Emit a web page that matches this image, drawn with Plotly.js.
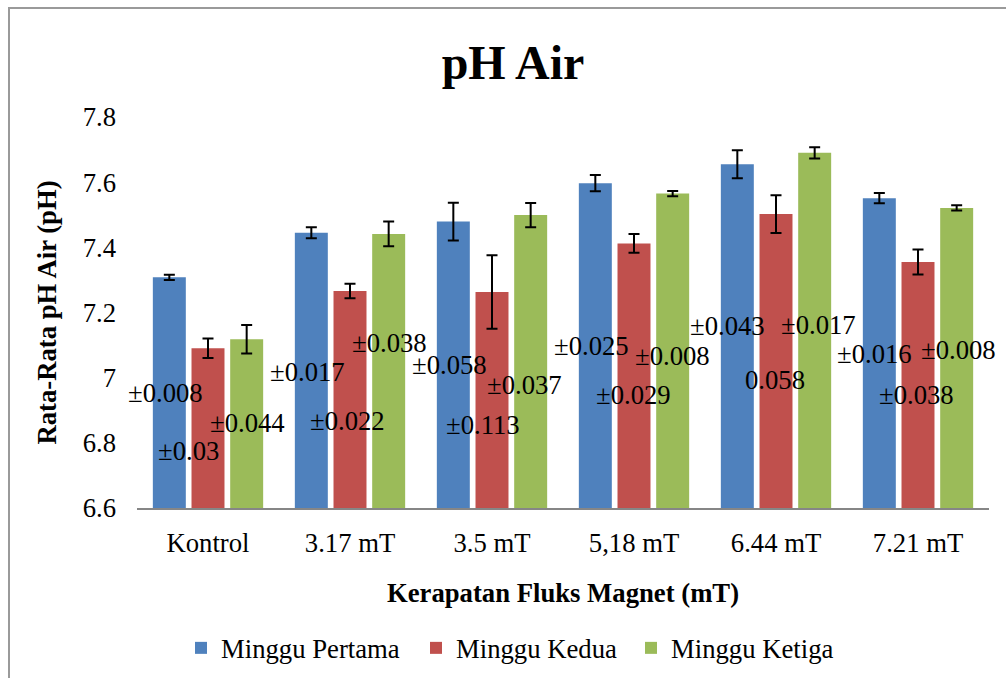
<!DOCTYPE html>
<html>
<head>
<meta charset="utf-8">
<script src="https://cdn.plot.ly/plotly-3.0.1.min.js"></script>
<style>
html,body{margin:0;padding:0;background:#fff;}
#wrap{position:relative;width:1006px;height:678px;overflow:hidden;}
#chart{position:absolute;left:0;top:0;width:1006px;height:678px;}
#frame{position:absolute;left:8px;top:7px;width:1100px;height:800px;border-left:2px solid #9a9a9a;border-top:2px solid #9a9a9a;pointer-events:none;}
</style>
</head>
<body>
<div id="wrap"><div id="chart"></div><div id="frame"></div></div>
<script>
// ---- data ----
const categories = ["Kontrol", "3.17 mT", "3.5 mT", "5,18 mT", "6.44 mT", "7.21 mT"];
const seriesNames = ["Minggu Pertama", "Minggu Kedua", "Minggu Ketiga"];
const minggu1 = [7.308, 7.445, 7.479, 7.597, 7.655, 7.551];
const minggu2 = [7.090, 7.266, 7.263, 7.412, 7.502, 7.355];
const minggu3 = [7.118, 7.441, 7.499, 7.565, 7.690, 7.521];
const sd1 = [0.008, 0.017, 0.058, 0.025, 0.043, 0.016];
const sd2 = [0.030, 0.022, 0.113, 0.029, 0.058, 0.038];
const sd3 = [0.044, 0.038, 0.037, 0.008, 0.017, 0.008];
const labels1 = ["±0.008", "±0.017", "±0.058", "±0.025", "±0.043", "±0.016"];
const labels2 = ["±0.03", "±0.022", "±0.113", "±0.029", "0.058", "±0.038"];
const labels3 = ["±0.044", "±0.038", "±0.037", "±0.008", "±0.017", "±0.008"];
const yTicks = [6.6, 6.8, 7.0, 7.2, 7.4, 7.6, 7.8];
const yTickText = ["6.6", "6.8", "7", "7.2", "7.4", "7.6", "7.8"];

// ---- label placement (layout only) ----
const labelPlace = {
  y: [
    [6.952, 7.018, 7.039, 7.097, 7.159, 7.073],
    [6.775, 6.867, 6.855, 6.947, 6.993, 6.947],
    [6.860, 7.106, 6.978, 7.067, 7.162, 7.085]
  ],
  shift: [
    [-43, -43, -43, -43, -49, -44],
    [-20, -3, -9, -1, -1, -2],
    [39, 39, 32, 38, 42, 40]
  ]
};
const legendLeft = [181, 416, 631];

const colors = ["#4F81BD", "#C0504D", "#9BBB59"];
const values = [minggu1, minggu2, minggu3];
const sds = [sd1, sd2, sd3];
const labelSets = [labels1, labels2, labels3];
const FONT = "'Liberation Serif', 'Times New Roman', Times, serif";
const FS = 26.7;
const legendIds = ["legend", "legend2", "legend3"];

const traces = values.map((v, i) => ({
  type: "bar",
  name: seriesNames[i],
  x: categories,
  y: v,
  legend: legendIds[i],
  marker: {color: colors[i]},
  error_y: {type: "data", array: sds[i], visible: true, color: "#000", thickness: 2, width: 5.5},
  hoverinfo: "skip"
}));

const annotations = [];
labelSets.forEach((set, i) => {
  set.forEach((txt, j) => {
    annotations.push({
      x: categories[j], y: labelPlace.y[i][j], xref: "x", yref: "y",
      text: txt, showarrow: false, xshift: labelPlace.shift[i][j],
      font: {family: FONT, size: FS, color: "#000"}
    });
  });
});

const layout = {
  width: 1006, height: 678,
  margin: {l: 137, r: 17, t: 117, b: 170},
  paper_bgcolor: "#fff", plot_bgcolor: "#fff",
  barmode: "group", bargap: 0.183, bargroupgap: 0.147,
  font: {family: FONT, size: FS, color: "#000"},
  title: {text: "<b>pH Air</b>", font: {family: FONT, size: 48, color: "#000"},
          x: 513/1006, xanchor: "center", xref: "container", y: 1 - 62/678, yanchor: "middle", yref: "container"},
  xaxis: {
    type: "category", range: [-0.5, 5.5], autorange: false,
    showgrid: false, zeroline: false, automargin: false,
    showline: true, linecolor: "#868686", linewidth: 1.5,
    ticks: "", ticklabelstandoff: 10,
    tickfont: {family: FONT, size: FS, color: "#000"},
    title: {text: "<b>Kerapatan Fluks Magnet (mT)</b>", font: {family: FONT, size: FS, color: "#000"}, standoff: 27}
  },
  yaxis: {
    range: [6.6, 7.8], autorange: false, tickvals: yTicks, ticktext: yTickText, automargin: false,
    showgrid: false, zeroline: false, showline: false, ticks: "",
    ticklabelstandoff: 20,
    tickfont: {family: FONT, size: FS, color: "#000"},
    title: {text: "<b>Rata-Rata pH Air (pH)</b>", font: {family: FONT, size: FS, color: "#000"}, standoff: 18}
  },
  annotations: annotations,
  showlegend: true
};
legendIds.forEach((id, i) => {
  layout[id] = {orientation: "h", xref: "container", yref: "container",
    x: legendLeft[i] / 1006, xanchor: "left", y: 1 - 648/678, yanchor: "middle",
    font: {family: FONT, size: FS, color: "#000"}, itemwidth: 30, bgcolor: "rgba(0,0,0,0)"};
});

Plotly.newPlot("chart", traces, layout, {displayModeBar: false, staticPlot: true});
</script>
</body>
</html>
